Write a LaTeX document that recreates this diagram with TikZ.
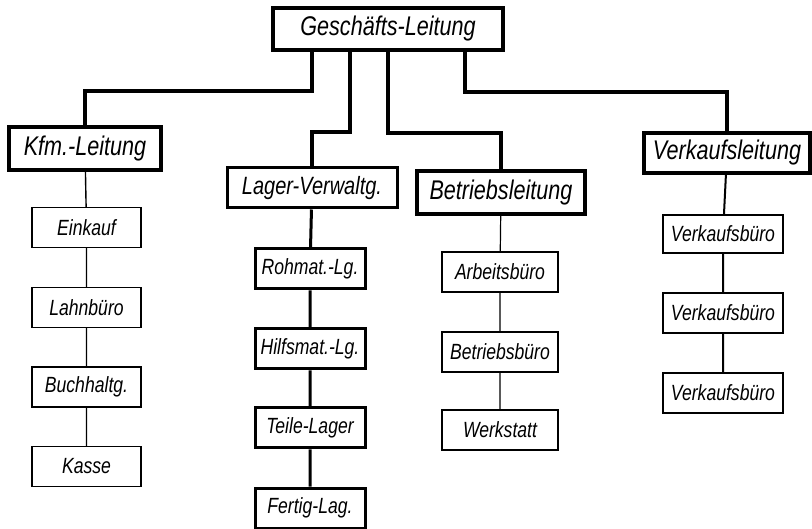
\documentclass[tikz,border=0pt]{standalone}
\usepackage{fontspec}
\newfontfamily\normschrift[FakeStretch=0.8]{Liberation Sans}

\begin{document}
\begin{tikzpicture}[
    x=1pt, y=-1pt,
    box/.style={draw, inner sep=0pt, line width=#1, align=center},
    chef/.style={box=3.8pt, minimum height=42pt,
      font=\normschrift\itshape\fontsize{27}{27}\selectfont},
    stelle/.style={box=#1, minimum width=110pt, minimum height=40pt,
      font=\normschrift\itshape\fontsize{22}{22}\selectfont},
    trunk/.style={line width=3.8pt, line join=miter}
  ]

    % Fixed frame
    \useasboundingbox (0,0) rectangle (812,529);

    % Management
    \node[chef, minimum width=230pt] (top) at (388,29) {Geschäfts-Leitung};

    % Divisions
    \node[chef, minimum width=152pt, minimum height=43pt] (kfm) at (85,148.5) {Kfm.-Leitung};
    \node[chef, box=3pt, minimum width=170pt, minimum height=40pt,
      font=\normschrift\itshape\fontsize{25}{25}\selectfont] (lager) at (312,188) {Lager-Verwaltg.};
    \node[chef, minimum width=168pt, minimum height=43pt] (betrieb) at (501,192.5) {Betriebsleitung};
    \node[chef, minimum width=166pt, minimum height=40pt] (verkauf) at (727,153) {Verkaufsleitung};

    % Kfm. departments
    \node[stelle=1.4pt, minimum width=109pt] (kfm1) at (86.5,227.5) {Einkauf};
    \node[stelle=1.4pt, minimum width=109pt] (kfm2) at (86.5,307.5) {Lahnbüro};
    \node[stelle=1.4pt, minimum width=109pt] (kfm3) at (86.5,387) {Buchhaltg.};
    \node[stelle=1.4pt, minimum width=109pt] (kfm4) at (86.5,466.5) {Kasse};

    % Stores
    \node[stelle=3pt] (lag1) at (310,269) {Rohmat.-Lg.};
    \node[stelle=3pt] (lag2) at (310,349) {Hilfsmat.-Lg.};
    \node[stelle=3pt] (lag3) at (310,428) {Teile-Lager};
    \node[stelle=3pt] (lag4) at (310,508) {Fertig-Lag.};

    % Works
    \node[stelle=1.3pt, minimum width=116pt] (bet1) at (500,272) {Arbeitsbüro};
    \node[stelle=1.3pt, minimum width=116pt] (bet2) at (500,352) {Betriebsbüro};
    \node[stelle=1.3pt, minimum width=116pt] (bet3) at (500,430) {Werkstatt};

    % Sales
    \node[stelle=2pt, minimum width=120pt, minimum height=38pt] (ver1) at (723,234) {Verkaufsbüro};
    \node[stelle=2pt, minimum width=120pt] (ver2) at (723,313) {Verkaufsbüro};
    \node[stelle=2pt, minimum width=120pt] (ver3) at (723,393) {Verkaufsbüro};

    % Lines from the management
    \draw[trunk] ([xshift=-76pt]top.south) -- ++(0,39) -| (kfm.north);
    \draw[trunk] ([xshift=-38pt]top.south) -- ++(0,80) -| (lager.north);
    \draw[trunk] (top.south) -- ++(0,81) -| (betrieb.north);
    \draw[trunk] ([xshift=77pt]top.south) -- ++(0,40) -| (verkauf.north);

    % Chains below the divisions
    \draw[line width=1.4pt] (kfm) -- (kfm1) -- (kfm2) -- (kfm3) -- (kfm4);
    \draw[line width=3pt] (lager) -- (lag1) -- (lag2) -- (lag3) -- (lag4);
    \draw[line width=1.2pt] (betrieb) -- (bet1) -- (bet2) -- (bet3);
    \draw[line width=2pt] (verkauf) -- (ver1) -- (ver2) -- (ver3);

  \end{tikzpicture}
\end{document}
